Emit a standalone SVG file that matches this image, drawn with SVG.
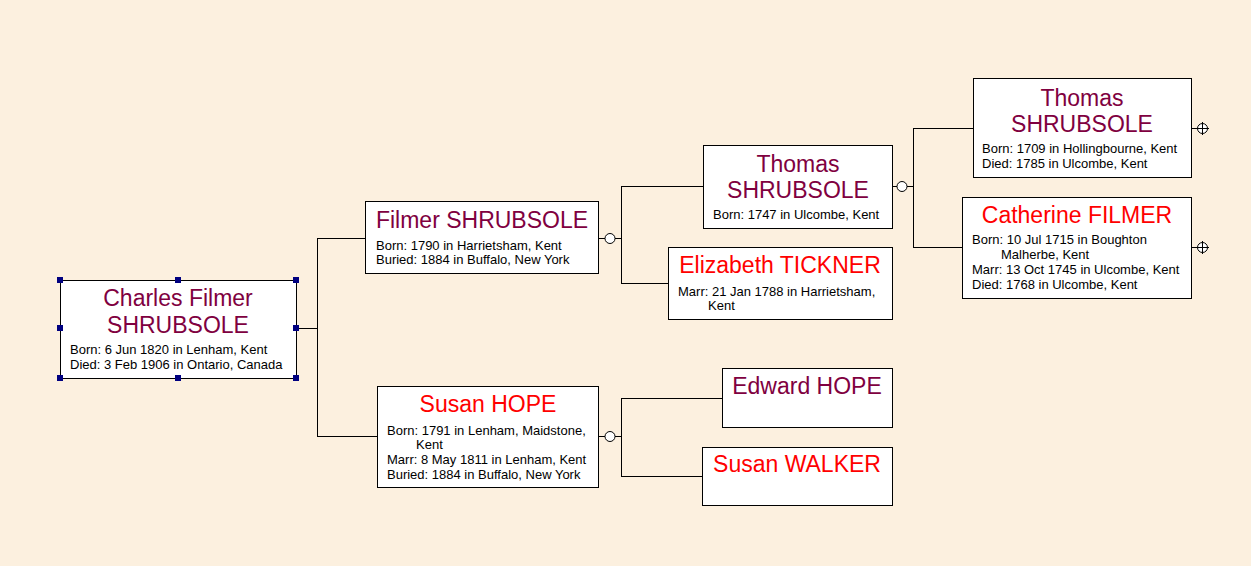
<svg xmlns="http://www.w3.org/2000/svg" width="1251" height="566" viewBox="0 0 1251 566">
<style>
.bg{fill:#FCF0DF}
.box{fill:#FFFFFF;stroke:#000000;stroke-width:1}
.ln{stroke:#000000;stroke-width:1;fill:none}
.cir{fill:#FFFFFF;stroke:#000000;stroke-width:1}
.nm{font-family:"Liberation Sans",Arial,sans-serif;font-size:23px;text-anchor:middle}
.m{fill:#800040}
.f{fill:#FF0000}
.dt{font-family:"Liberation Sans",Arial,sans-serif;font-size:13px;fill:#000000}
.h{fill:#000080}
</style>
<rect class="bg" x="0" y="0" width="1251" height="566"/>
<g id="connectors">
<path class="ln" d="M296,328.5H317.5M317.5,238V436.5M317,238.5H365M317,436.5H377"/>
<path class="ln" d="M598,238.5H605M615,238.5H621.5M621.5,186V283.5M621,186.5H703M621,283.5H668"/>
<circle class="cir" cx="610" cy="238.5" r="5"/>
<path class="ln" d="M598,436.5H605M615,436.5H621.5M621.5,398V476.5M621,398.5H722M621,476.5H702"/>
<circle class="cir" cx="610" cy="436.5" r="5"/>
<path class="ln" d="M892,186.5H897M907,186.5H913.5M913.5,128V247.5M913,128.5H973M913,247.5H962"/>
<circle class="cir" cx="902" cy="186.5" r="5"/>
<path class="ln" d="M1191,128.5H1197"/>
<circle class="cir" cx="1202.5" cy="128.5" r="5"/>
<path class="ln" d="M1197,128.5H1209M1202.5,122V135"/>
<path class="ln" d="M1191,247.5H1197"/>
<circle class="cir" cx="1202.5" cy="247.5" r="5"/>
<path class="ln" d="M1197,247.5H1209M1202.5,241V254"/>
</g>
<g id="charles">
<rect class="box" x="60.5" y="280.5" width="236" height="98"/>
<text class="nm m" x="178" y="306">Charles Filmer</text>
<text class="nm m" x="178" y="333">SHRUBSOLE</text>
<text class="dt" x="70" y="354">Born: 6 Jun 1820 in Lenham, Kent</text>
<text class="dt" x="70" y="369">Died: 3 Feb 1906 in Ontario, Canada</text>
<rect class="h" x="57" y="277" width="6" height="6"/>
<rect class="h" x="175" y="277" width="6" height="6"/>
<rect class="h" x="293" y="277" width="6" height="6"/>
<rect class="h" x="57" y="325" width="6" height="6"/>
<rect class="h" x="293" y="325" width="6" height="6"/>
<rect class="h" x="57" y="375" width="6" height="6"/>
<rect class="h" x="175" y="375" width="6" height="6"/>
<rect class="h" x="293" y="375" width="6" height="6"/>
</g>
<g id="filmer">
<rect class="box" x="365.5" y="201.5" width="233" height="72"/>
<text class="nm m" x="482" y="228">Filmer SHRUBSOLE</text>
<text class="dt" x="376" y="250">Born: 1790 in Harrietsham, Kent</text>
<text class="dt" x="376" y="264">Buried: 1884 in Buffalo, New York</text>
</g>
<g id="susan-hope">
<rect class="box" x="377.5" y="386.5" width="221" height="101"/>
<text class="nm f" x="488" y="412">Susan HOPE</text>
<text class="dt" x="387" y="435">Born: 1791 in Lenham, Maidstone,</text>
<text class="dt" x="416" y="449">Kent</text>
<text class="dt" x="387" y="464">Marr: 8 May 1811 in Lenham, Kent</text>
<text class="dt" x="387" y="479">Buried: 1884 in Buffalo, New York</text>
</g>
<g id="thomas-1747">
<rect class="box" x="703.5" y="145.5" width="189" height="83"/>
<text class="nm m" x="798" y="172">Thomas</text>
<text class="nm m" x="798" y="198">SHRUBSOLE</text>
<text class="dt" x="713" y="219">Born: 1747 in Ulcombe, Kent</text>
</g>
<g id="elizabeth">
<rect class="box" x="668.5" y="247.5" width="224" height="72"/>
<text class="nm f" x="780" y="273">Elizabeth TICKNER</text>
<text class="dt" x="678" y="296">Marr: 21 Jan 1788 in Harrietsham,</text>
<text class="dt" x="708" y="310">Kent</text>
</g>
<g id="edward">
<rect class="box" x="722.5" y="368.5" width="170" height="59"/>
<text class="nm m" x="807" y="394">Edward HOPE</text>
</g>
<g id="susan-walker">
<rect class="box" x="702.5" y="447.5" width="190" height="58"/>
<text class="nm f" x="797" y="472">Susan WALKER</text>
</g>
<g id="thomas-1709">
<rect class="box" x="973.5" y="78.5" width="218" height="99"/>
<text class="nm m" x="1082" y="106">Thomas</text>
<text class="nm m" x="1082" y="132">SHRUBSOLE</text>
<text class="dt" x="982" y="153">Born: 1709 in Hollingbourne, Kent</text>
<text class="dt" x="982" y="168">Died: 1785 in Ulcombe, Kent</text>
</g>
<g id="catherine">
<rect class="box" x="962.5" y="197.5" width="229" height="101"/>
<text class="nm f" x="1077" y="223">Catherine FILMER</text>
<text class="dt" x="972" y="244">Born: 10 Jul 1715 in Boughton</text>
<text class="dt" x="1001" y="259">Malherbe, Kent</text>
<text class="dt" x="972" y="274">Marr: 13 Oct 1745 in Ulcombe, Kent</text>
<text class="dt" x="972" y="289">Died: 1768 in Ulcombe, Kent</text>
</g>
</svg>
